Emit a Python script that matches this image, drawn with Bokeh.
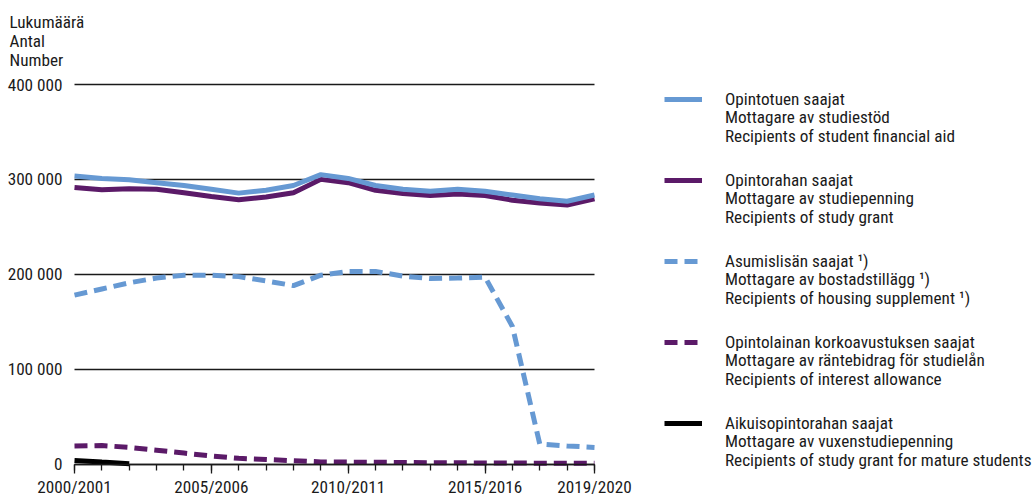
from bokeh.plotting import figure
from bokeh.models import Range1d, FixedTicker, Legend, LegendItem, Grid, Label
from bokeh.embed import file_html
from bokeh.resources import INLINE

# ---------------- data ----------------
years = ["2000/2001", "2001/2002", "2002/2003", "2003/2004", "2004/2005",
         "2005/2006", "2006/2007", "2007/2008", "2008/2009", "2009/2010",
         "2010/2011", "2011/2012", "2012/2013", "2013/2014", "2014/2015",
         "2015/2016", "2016/2017", "2017/2018", "2018/2019", "2019/2020"]
labelled_years = ["2000/2001", "2005/2006", "2010/2011", "2015/2016", "2019/2020"]

financial_aid = [303500, 301000, 299500, 296500, 293500, 289500, 285500, 288500, 293500, 305000,
                 301000, 293500, 289500, 287500, 289500, 287500, 283500, 279500, 277000, 283500]
study_grant = [291500, 289000, 290000, 289500, 286000, 282000, 278500, 281500, 286000, 300000,
               296500, 288500, 285000, 283000, 284500, 283000, 278000, 275000, 273000, 279500]
housing_supplement = [178000, 184500, 191000, 196000, 199000, 199000, 197500, 193000, 188000, 199000,
                      203000, 203000, 198000, 195500, 196000, 197000, 145000, 21000, 19000, 17500]
interest_allowance = [19000, 19500, 17500, 14500, 11500, 8500, 6000, 4800, 3500, 2200,
                      2000, 1800, 1600, 1400, 1300, 1100, 1000, 900, 800, 700]
mature_grant = [3800, 2000, 300, None, None, None, None, None, None, None,
                None, None, None, None, None, None, None, None, None, None]

y_ticks = [0, 100000, 200000, 300000, 400000]
y_tick_labels = ["0", "100 000", "200 000", "300 000", "400 000"]
y_title = ["Lukumäärä", "Antal", "Number"]

legend_fi = ["Opintotuen saajat", "Opintorahan saajat", "Asumislisän saajat \u00b9)",
             "Opintolainan korkoavustuksen saajat", "Aikuisopintorahan saajat"]
legend_sv = ["Mottagare av studiestöd", "Mottagare av studiepenning", "Mottagare av bostadstillägg \u00b9)",
             "Mottagare av räntebidrag för studielån", "Mottagare av vuxenstudiepenning"]
legend_en = ["Recipients of student financial aid", "Recipients of study grant",
             "Recipients of housing supplement \u00b9)", "Recipients of interest allowance",
             "Recipients of study grant for mature students"]

BLUE = "#6699d3"
PURPLE = "#5b1a68"
BLACK = "#000000"
TEXT = "#1a1a1a"
FONT = "Roboto Condensed"
FS = "17.2px"

W, H = 1032, 496
x = [years.index(y) for y in years]
label_pos = [years.index(y) for y in labelled_years]
x_last = len(years) - 1

# the frame covers the whole canvas; data area: x 0..19 -> 74..594 px, y 0..400000 -> 463.5..84 px
px_per_x = (594 - 74) / x_last
px_per_y = (463.5 - 84) / 400000
x_range = Range1d(-74 / px_per_x, (W - 74) / px_per_x)
y_range = Range1d(-(H - 463.5) / px_per_y, 463.5 / px_per_y)


def clean(vals):
    return [float("nan") if v is None else v for v in vals]


p = figure(width=W, height=H, output_backend="svg", toolbar_location=None,
           x_range=x_range, y_range=y_range,
           min_border_left=0, min_border_right=0, min_border_top=0, min_border_bottom=0)
p.title.visible = False
p.outline_line_color = None
p.background_fill_color = "white"
p.border_fill_color = "white"

# grid
p.xgrid.grid_line_color = None
yg = p.ygrid[0]
yg.grid_line_color = TEXT
yg.grid_line_width = 1.3
if "cross_bounds" in Grid.properties():
    yg.cross_bounds = (0, x_last)
else:
    yg.grid_line_color = None
    p.segment(x0=[0] * len(y_ticks), x1=[x_last] * len(y_ticks), y0=y_ticks, y1=y_ticks,
              line_color=TEXT, line_width=1.3)

# series
r_mature = p.line(x, clean(mature_grant), line_color=BLACK, line_width=5)
r_interest = p.line(x, interest_allowance, line_color=PURPLE, line_width=5, line_dash="13 7")
r_housing = p.line(x, housing_supplement, line_color=BLUE, line_width=5, line_dash="13 7")
r_grant = p.line(x, study_grant, line_color=PURPLE, line_width=5)
r_aid = p.line(x, financial_aid, line_color=BLUE, line_width=5)
r_blank = p.line(x, financial_aid, line_alpha=0)  # invisible: legend text-only rows

# x axis, fixed at y = 0
xa = p.xaxis[0]
xa.fixed_location = 0
xa.bounds = (0, x_last)
xa.ticker = FixedTicker(ticks=label_pos, minor_ticks=x)
xa.major_label_overrides = {k: v for k, v in zip(label_pos, labelled_years)}
xa.axis_line_color = TEXT
xa.axis_line_width = 1.3
xa.major_tick_line_color = TEXT
xa.minor_tick_line_color = TEXT
xa.major_tick_line_width = 1.3
xa.minor_tick_line_width = 1.3
xa.major_tick_in = 0
xa.major_tick_out = 9
xa.minor_tick_in = 0
xa.minor_tick_out = 6
xa.major_label_standoff = 4
xa.major_label_text_font = FONT
xa.major_label_text_font_size = FS
xa.major_label_text_color = TEXT

# y axis, fixed at x = 0
ya = p.yaxis[0]
ya.fixed_location = 0
ya.ticker = FixedTicker(ticks=y_ticks, minor_ticks=[])
ya.major_label_overrides = {k: v for k, v in zip(y_ticks, y_tick_labels)}
ya.axis_line_color = None
ya.major_tick_line_color = None
ya.minor_tick_line_color = None
ya.major_tick_out = 0
ya.major_tick_in = 0
ya.minor_tick_out = 0
ya.major_label_standoff = 12
ya.major_label_text_font = FONT
ya.major_label_text_font_size = FS
ya.major_label_text_color = TEXT

# y title, three lines at the top-left
for i, t in enumerate(y_title):
    p.add_layout(Label(x=9, y=H - 21.7 - 19 * i, x_units="screen", y_units="screen", text=t,
                       text_font=FONT, text_font_size=FS, text_color=TEXT,
                       text_baseline="middle", text_align="left"))

# legend: three stacked legends (Finnish / Swedish / English rows)
renderers = [r_aid, r_grant, r_housing, r_interest, r_mature]
item_h = 20.16          # measured text height of one legend row
gap = 61                # gap between groups
line_step = 18.3        # distance between the three text rows of a group
legend_h = 5 * item_h + 4 * gap
first_center = 98.3
rows = [(legend_fi, renderers), (legend_sv, [r_blank] * 5), (legend_en, [r_blank] * 5)]
for k, (labels, rends) in enumerate(rows):
    top = first_center - item_h / 2 + k * line_step
    items = [LegendItem(label=lab, renderers=[r]) for lab, r in zip(labels, rends)]
    lg = Legend(items=items, location=(664, H - top - legend_h), orientation="vertical",
                glyph_width=38, glyph_height=20, label_height=20, label_standoff=23,
                spacing=gap, padding=0, margin=0, border_line_color=None,
                background_fill_alpha=0, label_text_font=FONT, label_text_font_size=FS,
                label_text_color=TEXT)
    p.add_layout(lg)

open("out.html", "w").write(file_html(p, INLINE))
